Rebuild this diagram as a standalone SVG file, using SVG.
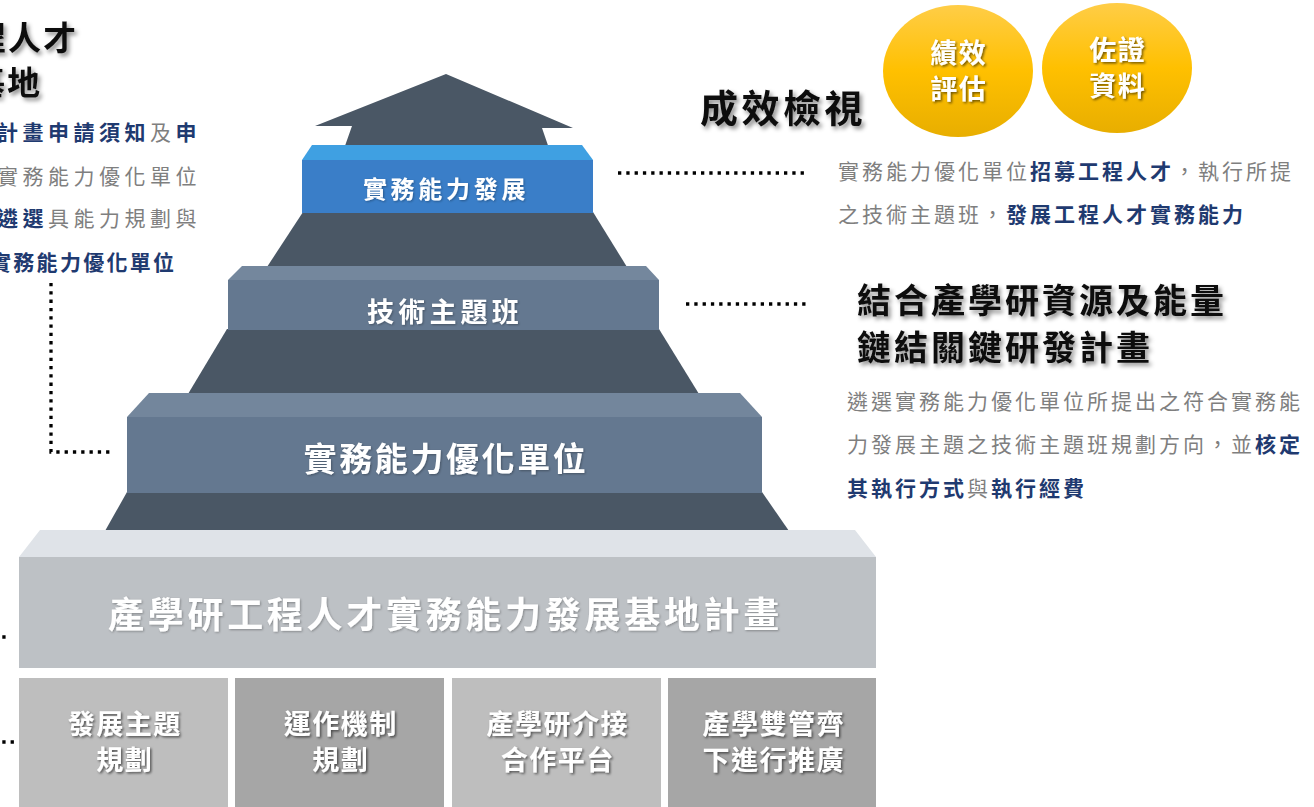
<svg xmlns="http://www.w3.org/2000/svg" width="1314" height="807" viewBox="0 0 1314 807">
<defs>
 <linearGradient id="gold" x1="0" y1="0" x2="0" y2="1">
  <stop offset="0" stop-color="#ffcd47"/>
  <stop offset="0.5" stop-color="#ffc000"/>
  <stop offset="1" stop-color="#e8ae00"/>
 </linearGradient>
 <filter id="hshadow" x="-10%" y="-20%" width="130%" height="150%"><feDropShadow dx="2.5" dy="3" stdDeviation="2" flood-color="#000" flood-opacity="0.45"/></filter>
 <filter id="tshadow" x="-10%" y="-20%" width="130%" height="150%"><feDropShadow dx="1.5" dy="1.5" stdDeviation="1" flood-color="#000" flood-opacity="0.55"/></filter>
 <filter id="lshadow" x="-10%" y="-20%" width="130%" height="150%"><feDropShadow dx="1" dy="1" stdDeviation="0.8" flood-color="#000" flood-opacity="0.3"/></filter>
</defs>
<style>
 text { font-family: 'Noto Sans CJK TC','Noto Sans CJK SC',sans-serif; }
 .dark { fill:#4a5765; }
 .dot { stroke:#000; stroke-width:3.3; stroke-dasharray:3.3 5; fill:none; }
 .lbl { fill:#fff; font-weight:700; text-anchor:middle; }
 .hd { fill:#111; font-weight:700; }
 .p { font-size:21px; letter-spacing:3px; }
 .pl { font-size:21px; letter-spacing:4.5px; }
 .pl4 { font-size:21px; letter-spacing:2.3px; }
 .g { fill:#7f7f7f; font-weight:400; }
 .b { fill:#1f3a70; font-weight:700; }
 .box { font-size:27px; letter-spacing:1.5px; }
</style>

<g id="pyramid-body">
 <polygon class="dark" points="446,74 573,128 542,128 553,160 340,160 352,126 315,126"/>
 <polygon class="dark" points="303,212 593,212 627,267 267,267"/>
 <polygon class="dark" points="227,329 659,329 699,394 188,394"/>
 <polygon class="dark" points="127,492 762,492 789,531 105,531"/>
</g>

<g id="node-practice-dev">
 <polygon fill="#3fa0e2" points="312,145 582,145 593,160 302,160"/>
 <rect x="302" y="160" width="291" height="53" fill="#3a7ec8"/>
 <text class="lbl" x="446" y="198" font-size="24" letter-spacing="3.7" filter="url(#lshadow)">實務能力發展</text>
</g>

<g id="node-tech-class">
 <polygon fill="#74879d" points="242,266 646,266 659,280 228,280"/>
 <rect x="228" y="280" width="431" height="50" fill="#647890"/>
 <text class="lbl" x="445" y="322" font-size="27" letter-spacing="4.2" filter="url(#lshadow)">技術主題班</text>
</g>

<g id="node-opt-unit">
 <polygon fill="#73869c" points="149,393 740,393 762,417 127,417"/>
 <rect x="127" y="417" width="635" height="76" fill="#647890"/>
 <text class="lbl" x="446" y="470.5" font-size="33" letter-spacing="2.6" filter="url(#lshadow)">實務能力優化單位</text>
</g>

<g id="node-base">
 <polygon fill="#dfe3e8" points="40,530 855,530 876,557 19,557"/>
 <rect x="19" y="557" width="857" height="111" fill="#bdc1c5"/>
 <text class="lbl" x="445.5" y="627.5" font-size="36" letter-spacing="3.7" filter="url(#lshadow)">產學研工程人才實務能力發展基地計畫</text>
</g>

<g id="node-box1">
 <rect x="19" y="678" width="209" height="129" fill="#bebebe"/>
 <text class="lbl box" x="124.7" y="734" filter="url(#tshadow)">發展主題</text>
 <text class="lbl box" x="124.7" y="770" filter="url(#tshadow)">規劃</text>
</g>
<g id="node-box2">
 <rect x="235" y="678" width="209" height="129" fill="#a6a6a6"/>
 <text class="lbl box" x="340.7" y="734" filter="url(#tshadow)">運作機制</text>
 <text class="lbl box" x="340.7" y="770" filter="url(#tshadow)">規劃</text>
</g>
<g id="node-box3">
 <rect x="452" y="678" width="209" height="129" fill="#bebebe"/>
 <text class="lbl box" x="557.7" y="734" filter="url(#tshadow)">產學研介接</text>
 <text class="lbl box" x="557.7" y="770" filter="url(#tshadow)">合作平台</text>
</g>
<g id="node-box4">
 <rect x="668" y="678" width="208" height="129" fill="#a6a6a6"/>
 <text class="lbl box" x="773.7" y="734" filter="url(#tshadow)">產學雙管齊</text>
 <text class="lbl box" x="773.7" y="770" filter="url(#tshadow)">下進行推廣</text>
</g>

<g id="node-circle1">
 <ellipse cx="958" cy="71" rx="75" ry="66" fill="url(#gold)"/>
 <text class="lbl" x="958.8" y="63" font-size="27" letter-spacing="1.5" filter="url(#tshadow)">績效</text>
 <text class="lbl" x="958.8" y="99" font-size="27" letter-spacing="1.5" filter="url(#tshadow)">評估</text>
</g>
<g id="node-circle2">
 <ellipse cx="1117" cy="68" rx="75" ry="65" fill="url(#gold)"/>
 <text class="lbl" x="1117.8" y="60" font-size="27" letter-spacing="1.5" filter="url(#tshadow)">佐證</text>
 <text class="lbl" x="1117.8" y="96" font-size="27" letter-spacing="1.5" filter="url(#tshadow)">資料</text>
</g>

<g id="node-review-title">
 <text class="hd" x="700" y="122" font-size="38" letter-spacing="3.5" filter="url(#hshadow)">成效檢視</text>
</g>

<g id="node-left-title">
 <text class="hd" x="-27" y="50" font-size="33" letter-spacing="2" filter="url(#hshadow)">程人才</text>
 <text class="hd" x="-28" y="94.5" font-size="33" letter-spacing="2" filter="url(#hshadow)">基地</text>
</g>

<g id="node-left-desc">
 <text class="pl" x="-3" y="139.5"><tspan class="b">計畫申請須知</tspan><tspan class="g">及</tspan><tspan class="b">申</tspan></text>
 <text class="pl g" x="-3" y="184">實務能力優化單位</text>
 <text class="pl" x="-3" y="226"><tspan class="b">遴選</tspan><tspan class="g">具能力規劃與</tspan></text>
 <text class="pl4 b" x="-10" y="269.5">實務能力優化單位</text>
</g>

<g id="node-right-desc1">
 <text class="p" x="838" y="178.5"><tspan class="g">實務能力優化單位</tspan><tspan class="b">招募工程人才</tspan><tspan class="g">，執行所提</tspan></text>
 <text class="p" x="838" y="221.5"><tspan class="g">之技術主題班，</tspan><tspan class="b">發展工程人才實務能力</tspan></text>
</g>

<g id="node-right-title">
 <text class="hd" x="857" y="313" font-size="34" letter-spacing="3" filter="url(#hshadow)">結合產學研資源及能量</text>
 <text class="hd" x="857" y="360" font-size="34" letter-spacing="3" filter="url(#hshadow)">鏈結關鍵研發計畫</text>
</g>

<g id="node-right-desc2">
 <text class="p g" x="847" y="408.5">遴選實務能力優化單位所提出之符合實務能</text>
 <text class="p" x="847" y="451.5"><tspan class="g">力發展主題之技術主題班規劃方向，並</tspan><tspan class="b">核定</tspan></text>
 <text class="p" x="847" y="495.5"><tspan class="b">其執行方式</tspan><tspan class="g">與</tspan><tspan class="b">執行經費</tspan></text>
</g>

<g id="connectors">
 <path class="dot" d="M618,173 H806"/>
 <path class="dot" d="M686,304 H808"/>
 <path class="dot" d="M51,283 V452 H112"/>
 <path class="dot" d="M-22.6,637 H9"/>
 <path class="dot" d="M-22.6,742 H18"/>
</g>
</svg>
